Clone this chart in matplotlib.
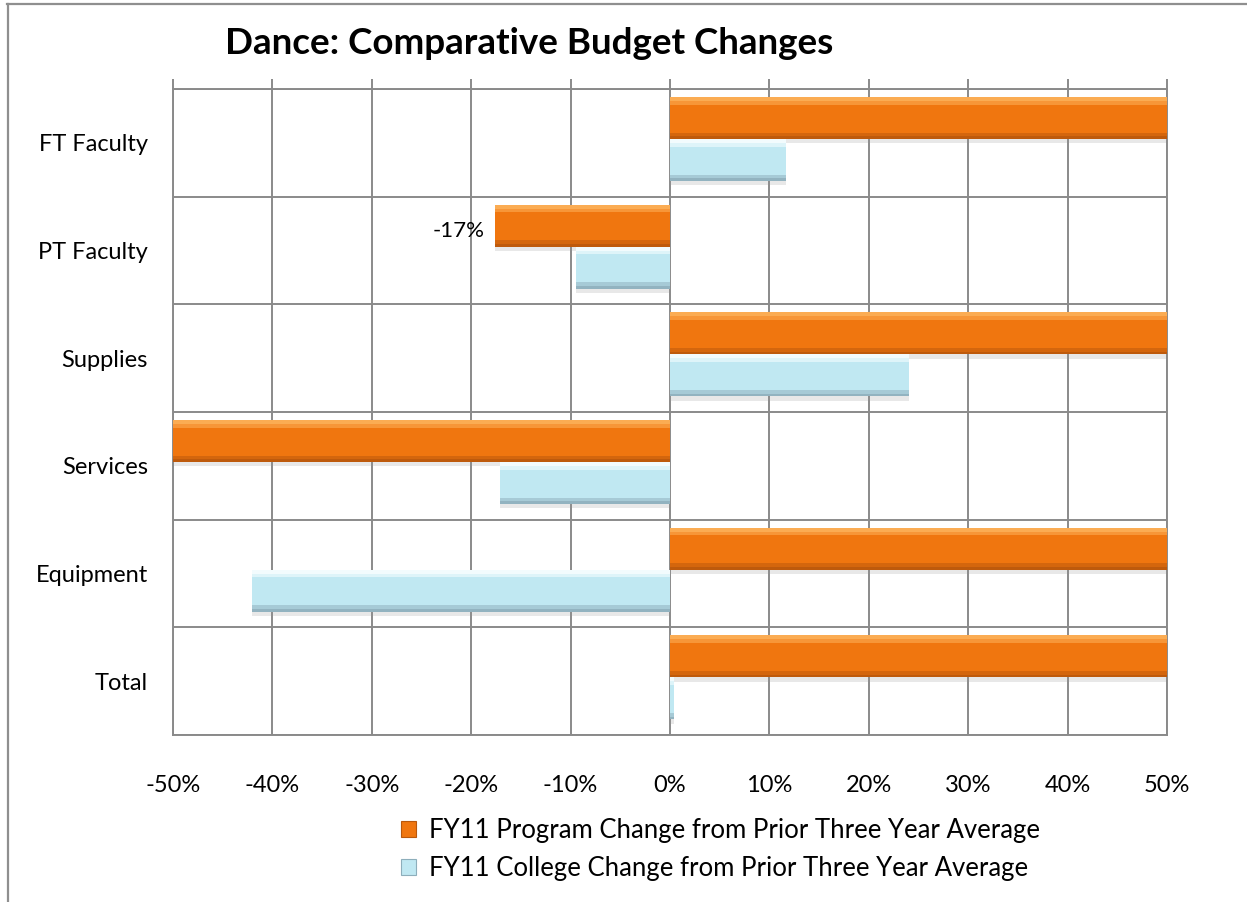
import matplotlib
matplotlib.use("Agg")
import matplotlib.pyplot as plt
from matplotlib.patches import Patch
from matplotlib.lines import Line2D
import numpy as np

plt.rcParams['font.family'] = ['Lato', 'DejaVu Sans']

# ---- data ----
categories = ["FT Faculty", "PT Faculty", "Supplies", "Services", "Equipment", "Total"]
# program values beyond +/-50% are clipped by the axis in the original
program_change = [0.60, -0.176, 0.60, -0.60, 0.60, 0.60]
college_change = [0.117, -0.095, 0.240, -0.171, -0.421, 0.004]
program_labels = ["", "-17%", "", "", "", ""]
x_ticks = [-0.5, -0.4, -0.3, -0.2, -0.1, 0.0, 0.1, 0.2, 0.3, 0.4, 0.5]
x_tick_labels = ["-50%", "-40%", "-30%", "-20%", "-10%", "0%", "10%", "20%", "30%", "40%", "50%"]
series_names = ["FY11 Program Change from Prior Three Year Average",
                "FY11 College Change from Prior Three Year Average"]

W, H = 1247, 902
fig = plt.figure(figsize=(W / 100, H / 100), dpi=100)
ax = fig.add_axes([173 / W, 1 - 735 / H, (1167 - 173) / W, (735 - 89) / H])

grid_c = "#8a8a8a"
y = np.arange(len(categories))
bh = 0.39
off_p = -0.23
off_c = 0.16

styles = [
    dict(main="#F0760F", light="#FDB25A", dark="#B9580C"),
    dict(main="#C0E8F2", light="#F8FEFF", dark="#8DAEBB"),
]

def bevel_bars(vals, offset, st):
    yc = y + offset
    # soft shadow
    ax.barh(yc + 0.04, vals, height=bh, color="#9a9a9a", alpha=0.22, zorder=2, linewidth=0)
    ax.barh(yc, vals, height=bh, color=st["main"], zorder=3, linewidth=0)
    # top highlight (two steps for a softer gradient)
    ax.barh(yc - bh / 2 + 0.035, vals, height=0.07, color=st["light"], zorder=4, linewidth=0, alpha=0.55)
    ax.barh(yc - bh / 2 + 0.018, vals, height=0.036, color=st["light"], zorder=4, linewidth=0, alpha=0.8)
    # bottom darker edge
    ax.barh(yc + bh / 2 - 0.03, vals, height=0.06, color=st["dark"], zorder=4, linewidth=0, alpha=0.5)
    ax.barh(yc + bh / 2 - 0.012, vals, height=0.024, color=st["dark"], zorder=4, linewidth=0, alpha=0.8)

bevel_bars(program_change, off_p, styles[0])
bevel_bars(college_change, off_c, styles[1])

for i, (v, lab) in enumerate(zip(program_change, program_labels)):
    if lab:
        ax.text(v - 0.01, y[i] + off_p + 0.05, lab, ha="right", va="center", fontsize=16, color="black", zorder=6)

ax.set_xlim(-0.5, 0.5)
ax.set_ylim(len(categories) - 0.5, -0.5)

ax.set_xticks(x_ticks)
ax.set_xticklabels(x_tick_labels, fontsize=17)
ax.set_yticks(y)
ax.set_yticklabels(categories, fontsize=17)
ax.set_yticks(np.arange(len(categories) + 1) - 0.5, minor=True)

ax.tick_params(axis="x", which="major", top=True, bottom=False, labeltop=False, labelbottom=True,
               direction="out", length=7, width=1.4, color=grid_c, pad=22)
ax.tick_params(axis="y", which="both", length=0, pad=18)

ax.grid(True, axis="x", which="major", color=grid_c, linewidth=1.4, zorder=1)
ax.grid(True, axis="y", which="minor", color=grid_c, linewidth=1.4, zorder=1)
ax.set_axisbelow(True)
for s in ax.spines.values():
    s.set_color(grid_c)
    s.set_linewidth(1.4)

fig.text(225 / W, 1 - 43 / H, "Dance: Comparative Budget Changes", fontsize=26.5, fontweight="bold",
         ha="left", va="center")

handles = [Patch(facecolor=styles[0]["main"], edgecolor=styles[0]["dark"], linewidth=0.8),
           Patch(facecolor=styles[1]["main"], edgecolor=styles[1]["dark"], linewidth=0.8)]
fig.legend(handles, series_names, loc="upper left", bbox_to_anchor=(401 / W, 1 - 818 / H),
           frameon=False, fontsize=18.5, handlelength=0.6, handleheight=0.6, handletextpad=0.5,
           labelspacing=0.52, borderaxespad=0, borderpad=0)

# outer frame (cropped chart border)
fig.add_artist(Line2D([7 / W, 1], [1 - 4 / H, 1 - 4 / H], color="#8f8f8f", linewidth=1.6))
fig.add_artist(Line2D([8 / W, 8 / W], [0, 1 - 4 / H], color="#8f8f8f", linewidth=1.6))

fig.savefig("out.png", dpi=100, facecolor="white")
